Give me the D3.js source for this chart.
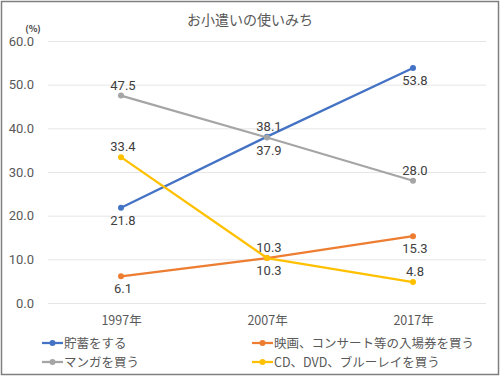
<!DOCTYPE html>
<html>
  <head>
    <meta charset="utf-8" />
    <script src="https://d3js.org/d3.v7.min.js"></script>
    <style>
      body { margin: 0; background: #fff; }
      text { font-family: "Noto Sans CJK JP", "Noto Sans", sans-serif; }
    </style>
  </head>
  <body>
    <svg width="500" height="377"></svg>

    <script type="text/javascript">
      var years = ["1997年", "2007年", "2017年"];
      var yTicks = [0, 10, 20, 30, 40, 50, 60];
      var seriesNames = ["貯蓄をする", "映画、コンサート等の入場券を買う", "マンガを買う", "CD、DVD、ブルーレイを買う"];
      var seriesColors = ["#4472C4", "#ED7D31", "#A5A5A5", "#FFC000"];
      var savingValues = [21.8, 38.1, 53.8];
      var ticketValues = [6.1, 10.3, 15.3];
      var mangaValues = [47.5, 37.9, 28.0];
      var discValues = [33.4, 10.3, 4.8];
      // label above (-1) or below (+1) each point
      var savingPos = [1, -1, 1];
      var ticketPos = [1, -1, 1];
      var mangaPos = [-1, 1, -1];
      var discPos = [-1, 1, -1];

      var series = [
        { name: seriesNames[0], color: seriesColors[0], values: savingValues, pos: savingPos },
        { name: seriesNames[1], color: seriesColors[1], values: ticketValues, pos: ticketPos },
        { name: seriesNames[2], color: seriesColors[2], values: mangaValues, pos: mangaPos },
        { name: seriesNames[3], color: seriesColors[3], values: discValues, pos: discPos }
      ];

      var svg = d3.select("svg");
      var textColor = "#595959";
      var numFont = "Roboto, 'Noto Sans', sans-serif";

      svg.append("rect")
        .attr("x", 1.5).attr("y", 1.5)
        .attr("width", 497).attr("height", 373)
        .attr("fill", "#fff")
        .attr("stroke", "#7f7f7f")
        .attr("stroke-width", 1.5);

      var x = d3.scalePoint().domain(years).range([48, 486]).padding(0.5);
      var y = d3.scaleLinear().domain([0, 60]).range([303, 41]);

      svg.append("text")
        .attr("x", 250).attr("y", 25)
        .attr("text-anchor", "middle")
        .attr("font-size", 14)
        .attr("fill", textColor)
        .text("お小遣いの使いみち");

      svg.append("text")
        .attr("x", 33).attr("y", 32)
        .attr("text-anchor", "middle")
        .attr("font-size", 9)
        .attr("font-weight", "bold")
        .attr("fill", "#404040")
        .text("(%)");

      var yAxis = d3.axisLeft(y).tickValues(yTicks).tickSize(-(486 - 48)).tickFormat(d3.format(".1f"));
      var gy = svg.append("g").attr("transform", "translate(48,0)").call(yAxis);
      gy.select(".domain").remove();
      gy.selectAll(".tick line").attr("stroke", "#e6e6e6").attr("stroke-width", 1);
      gy.selectAll(".tick text")
        .attr("x", -14)
        .attr("font-size", 13)
        .attr("fill", textColor)
        .style("font-family", numFont);

      var xAxis = d3.axisBottom(x).tickSize(0);
      var gx = svg.append("g").attr("transform", "translate(0,303)").call(xAxis);
      gx.select(".domain").remove();
      gx.selectAll(".tick text")
        .attr("y", 13)
        .attr("font-size", 12.5)
        .attr("fill", textColor)
        .style("font-family", "'Noto Sans CJK JP', sans-serif");

      var line = d3.line()
        .x(function (d, i) { return x(years[i]); })
        .y(function (d) { return y(d); });

      series.forEach(function (s) {
        var g = svg.append("g");
        g.append("path")
          .attr("d", line(s.values))
          .attr("fill", "none")
          .attr("stroke", s.color)
          .attr("stroke-width", 2.25)
          .attr("stroke-linejoin", "round");
        g.selectAll("circle")
          .data(s.values)
          .enter()
          .append("circle")
          .attr("cx", function (d, i) { return x(years[i]); })
          .attr("cy", function (d) { return y(d); })
          .attr("r", 3)
          .attr("fill", s.color);
      });

      series.forEach(function (s) {
        svg.append("g").selectAll("text")
          .data(s.values)
          .enter()
          .append("text")
          .attr("x", function (d, i) { return x(years[i]) + 2; })
          .attr("y", function (d, i) { return y(d) + (s.pos[i] < 0 ? -6 : 17); })
          .attr("text-anchor", "middle")
          .attr("font-size", 13)
          .attr("fill", "#404040")
          .style("font-family", numFont)
          .text(function (d) { return d.toFixed(1); });
      });

      var legendPos = [[42, 343], [252, 343], [42, 362], [252, 362]];
      series.forEach(function (s, i) {
        var lg = svg.append("g").attr("transform", "translate(" + legendPos[i][0] + "," + legendPos[i][1] + ")");
        lg.append("line").attr("x1", 0).attr("x2", 21).attr("y1", 0).attr("y2", 0)
          .attr("stroke", s.color).attr("stroke-width", 2.25);
        lg.append("circle").attr("cx", 10.5).attr("cy", 0).attr("r", 3).attr("fill", s.color);
        lg.append("text").attr("x", 22).attr("y", 4.5)
          .attr("font-size", 12.5)
          .attr("fill", textColor)
          .text(s.name);
      });
    </script>
  </body>
</html>
